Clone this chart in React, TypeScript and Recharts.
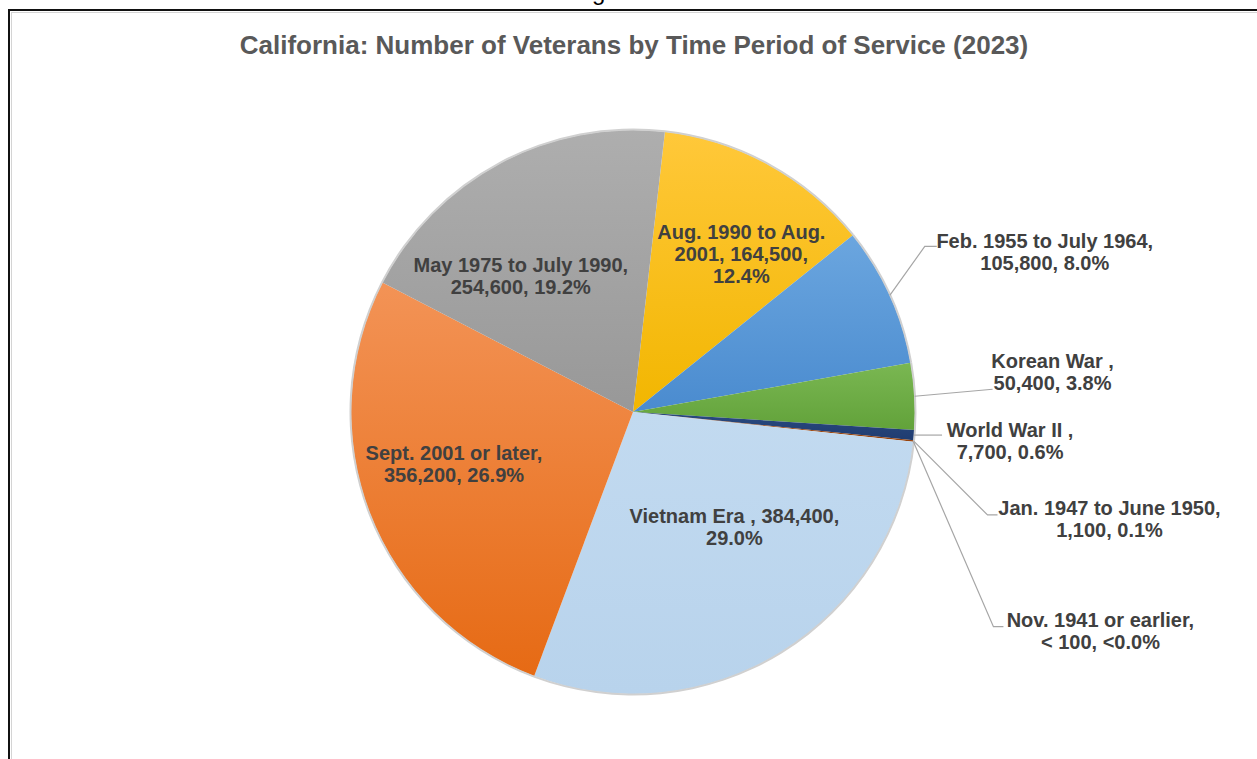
import React from "react";
import { PieChart, Pie, Cell } from "recharts";

// Veterans in California by period of service, 2023
const categories = [
  "Aug. 1990 to Aug. 2001",
  "Feb. 1955 to July 1964",
  "Korean War ",
  "World War II ",
  "Jan. 1947 to June 1950",
  "Nov. 1941 or earlier",
  "Vietnam Era ",
  "Sept. 2001 or later",
  "May 1975 to July 1990",
];
const veterans = [164500, 105800, 50400, 7700, 1100, 50, 384400, 356200, 254600];

const topColors = ["#FFC83A", "#6BA6DF", "#7AB752", "#2A4A80", "#A44C12", "#7F7F7F", "#C2DAF0", "#F39356", "#AEAEAE"];
const bottomColors = ["#F2B600", "#4A8BCF", "#62A23A", "#1F3C70", "#96420C", "#6F6F6F", "#B8D3EC", "#E66A14", "#989898"];

const total = veterans.reduce((a, b) => a + b, 0);
const pieData = categories.map((name, i) => ({ name, value: veterans[i] }));

// layout for each label: inside labels sit at a polar spot near the slice middle,
// outside ones hang off a leader line from the slice edge
type InLabel = { kind: "in"; shift: number; k: number; wrap: number };
type OutLabel = { kind: "out"; bend: [number, number]; tail: number; text: [number, number]; wrap: number };
const labelLayout: (InLabel | OutLabel)[] = [
  { kind: "in", shift: -5.6, k: 0.679, wrap: 17 },
  { kind: "out", bend: [35, -49], tail: 12, text: [108, -5], wrap: 23 },
  { kind: "out", bend: [78, -7], tail: 0, text: [60, -28], wrap: 12 },
  { kind: "out", bend: [28, 0], tail: 0, text: [68, -5], wrap: 14 },
  { kind: "out", bend: [74, 74], tail: 10, text: [112, -7], wrap: 23 },
  { kind: "out", bend: [80, 185], tail: 10, text: [97, -7], wrap: 21 },
  { kind: "in", shift: 9.75, k: 0.543, wrap: 22 },
  { kind: "in", shift: -4.9, k: 0.661, wrap: 20 },
  { kind: "in", shift: 11.45, k: 0.625, wrap: 22 },
];

const RAD = Math.PI / 180;
const polar = (cx: number, cy: number, r: number, a: number) => ({
  x: cx + Math.cos(-a * RAD) * r,
  y: cy + Math.sin(-a * RAD) * r,
});

const fmt = (v: number) => v.toLocaleString("en-US");

function labelText(i: number) {
  const v = veterans[i];
  if (v < 100) return `${categories[i]}, < 100, <0.0%`;
  return `${categories[i]}, ${fmt(v)}, ${((v / total) * 100).toFixed(1)}%`;
}

function wrap(text: string, max: number) {
  const words = text.split(" ");
  const lines: string[] = [];
  let cur = "";
  words.forEach((w) => {
    const next = cur ? cur + " " + w : w;
    if (next.length > max && cur) {
      lines.push(cur);
      cur = w;
    } else cur = next;
  });
  if (cur) lines.push(cur);
  return lines;
}

const LINE_H = 22;
const textStyle = {
  fontFamily: "'Liberation Sans', Arial, sans-serif",
  fontWeight: 700,
  fontSize: 20,
  fill: "#404040",
};

function renderLabel(props: any) {
  const { cx, cy, midAngle, outerRadius, index } = props;
  const cfg = labelLayout[index];
  const lines = wrap(labelText(index), cfg.wrap);
  if (cfg.kind === "in") {
    const p = polar(cx, cy, outerRadius * cfg.k, midAngle + cfg.shift);
    const y0 = p.y - ((lines.length - 1) * LINE_H) / 2;
    return (
      <text key={`l${index}`} textAnchor="middle" dominantBaseline="central" {...textStyle}>
        {lines.map((ln, j) => (
          <tspan key={j} x={p.x} y={y0 + j * LINE_H}>
            {ln}
          </tspan>
        ))}
      </text>
    );
  }
  const e = polar(cx, cy, outerRadius, midAngle);
  const b = { x: e.x + cfg.bend[0], y: e.y + cfg.bend[1] };
  const t = { x: b.x + cfg.tail, y: b.y };
  const tx = t.x + cfg.text[0];
  const ty = t.y + cfg.text[1];
  return (
    <g key={`l${index}`}>
      <polyline
        points={`${e.x},${e.y} ${b.x},${b.y} ${t.x},${t.y}`}
        fill="none"
        stroke="#A6A6A6"
        strokeWidth={1.2}
      />
      <text textAnchor="middle" dominantBaseline="central" {...textStyle}>
        {lines.map((ln, j) => (
          <tspan key={j} x={tx} y={ty + j * LINE_H}>
            {ln}
          </tspan>
        ))}
      </text>
    </g>
  );
}

export default function App() {
  return (
    <div style={{ position: "absolute", left: 0, top: 0, width: 1257, height: 759, background: "#fff" }}>
      <PieChart width={1257} height={759} margin={{ top: 0, right: 0, bottom: 0, left: 0 }}>
        <defs>
          {categories.map((_, i) => (
            <linearGradient key={i} id={`grad${i}`} x1="0" y1="0" x2="0" y2="1">
              <stop offset="0%" stopColor={topColors[i]} />
              <stop offset="100%" stopColor={bottomColors[i]} />
            </linearGradient>
          ))}
        </defs>
        <text x={592} y={0} fontFamily="'Liberation Sans', Arial, sans-serif" fontSize={24} fill="#000">
          g
        </text>
        <rect x={9} y={10} width={1262} height={762} fill="none" stroke="#111" strokeWidth={2} />
        <rect x={11.5} y={12.5} width={1257} height={760} fill="none" stroke="#D4D4D4" strokeWidth={1} />
        <text
          x={634}
          y={45}
          textAnchor="middle"
          dominantBaseline="central"
          fontFamily="'Liberation Sans', Arial, sans-serif"
          fontWeight={700}
          fontSize={26}
          fill="#595959"
        >
          California: Number of Veterans by Time Period of Service (2023)
        </text>
        <Pie
          data={pieData}
          dataKey="value"
          nameKey="name"
          cx={633}
          cy={412}
          outerRadius={282}
          startAngle={83.5}
          endAngle={-276.5}
          stroke="none"
          label={renderLabel}
          labelLine={false}
          isAnimationActive={false}
        >
          {pieData.map((_, i) => (
            <Cell key={i} fill={`url(#grad${i})`} />
          ))}
        </Pie>
        <Pie
          data={pieData}
          dataKey="value"
          cx={633}
          cy={412}
          innerRadius={281.5}
          outerRadius={283.5}
          startAngle={83.5}
          endAngle={-276.5}
          fill="#D0D0D0"
          stroke="none"
          isAnimationActive={false}
        />
      </PieChart>
    </div>
  );
}
